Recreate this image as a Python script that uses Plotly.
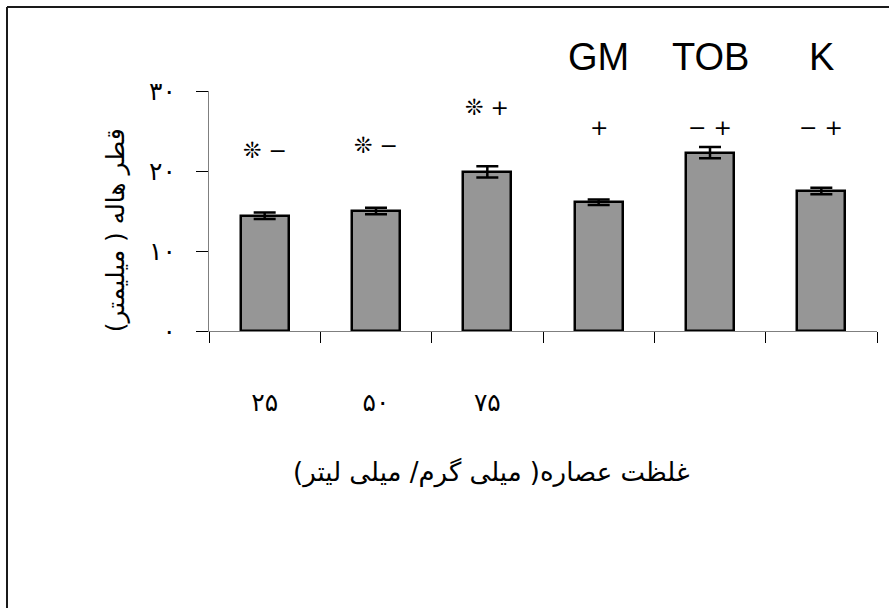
import plotly.graph_objects as go

# ---- data ----
groups = ["۲۵", "۵۰", "۷۵", "GM", "TOB", "K"]
tick_labels = ["۲۵", "۵۰", "۷۵"]
top_labels = ["GM", "TOB", "K"]
values = [14.4, 15.0, 19.9, 16.1, 22.3, 17.5]
errors = [0.4, 0.4, 0.7, 0.35, 0.7, 0.4]
marks = ["❊ −", "❊ −", "❊ +", "+", "− +", "− +"]
mark_y = [22.6, 23.25, 28.0, 25.5, 25.5, 25.5]
y_ticks = [0, 10, 20, 30]
y_tick_text = ["۰", "۱۰", "۲۰", "۳۰"]
y_title = "قطر هاله ( میلیمتر)"
x_title = "غلظت عصاره( میلی گرم/ میلی لیتر)"

xs = list(range(len(groups)))
arabic_font = "DejaVu Sans"

fig = go.Figure()
fig.add_trace(go.Bar(
    x=xs, y=values, width=0.43,
    marker=dict(color="#969696", line=dict(color="black", width=2.5)),
    error_y=dict(type="data", array=errors, visible=True, color="black",
                 thickness=2.5, width=11),
    showlegend=False, hoverinfo="skip",
))

ann = []
for i, (m, my) in enumerate(zip(marks, mark_y)):
    ann.append(dict(x=i, y=my, xref="x", yref="y", text=m, showarrow=False,
                    xanchor="center", yanchor="middle",
                    font=dict(family="DejaVu Sans", size=22, color="black")))
for j, t in enumerate(top_labels):
    ann.append(dict(x=3 + j, y=1.1417, xref="x", yref="paper", text=t, showarrow=False,
                    xanchor="center", yanchor="middle",
                    font=dict(family="Liberation Sans", size=38, color="black")))
ann.append(dict(x=-0.1407, y=0.42, xref="paper", yref="paper", text=y_title,
                textangle=-90, showarrow=False, xanchor="center", yanchor="middle",
                font=dict(family=arabic_font, size=25, color="black")))
ann.append(dict(x=0.422, y=-0.5875, xref="paper", yref="paper", text=x_title,
                showarrow=False, xanchor="center", yanchor="middle",
                font=dict(family=arabic_font, size=26, color="black")))

fig.update_layout(
    width=889, height=608,
    margin=dict(l=209, r=12, t=91, b=277),
    paper_bgcolor="white", plot_bgcolor="white",
    annotations=ann,
    bargap=0,
    shapes=[
        dict(type="line", xref="paper", yref="paper", x0=-0.3024, x1=1.1, y0=1.35, y1=1.35,
             line=dict(color="#1a1a1a", width=2)),
        dict(type="line", xref="paper", yref="paper", x0=-0.3024, x1=-0.3024, y0=1.35, y1=-1.3,
             line=dict(color="#1a1a1a", width=2)),
    ],
)
fig.update_xaxes(
    range=[-0.5, 5.5], showgrid=False, zeroline=False,
    showline=True, linecolor="#7f7f7f", linewidth=1.3,
    tickmode="array", tickvals=xs[:len(tick_labels)], ticktext=tick_labels,
    ticks="", ticklabelstandoff=49,
    tickfont=dict(family=arabic_font, size=25, color="black"),
    minor=dict(tickmode="array", tickvals=[k - 0.5 for k in range(len(groups) + 1)],
               ticks="outside", ticklen=11, tickcolor="black", tickwidth=1.2, showgrid=False),
)
fig.update_yaxes(
    range=[0, 30], showgrid=False, zeroline=False,
    showline=True, linecolor="#7f7f7f", linewidth=1.3,
    tickmode="array", tickvals=y_ticks, ticktext=y_tick_text,
    ticks="outside", ticklen=12, tickcolor="black", tickwidth=1.2,
    ticklabelstandoff=15,
    tickfont=dict(family=arabic_font, size=25, color="black"),
)

fig.write_html("out.html", config={"displayModeBar": False},
               post_script="document.body.style.margin='0';")
